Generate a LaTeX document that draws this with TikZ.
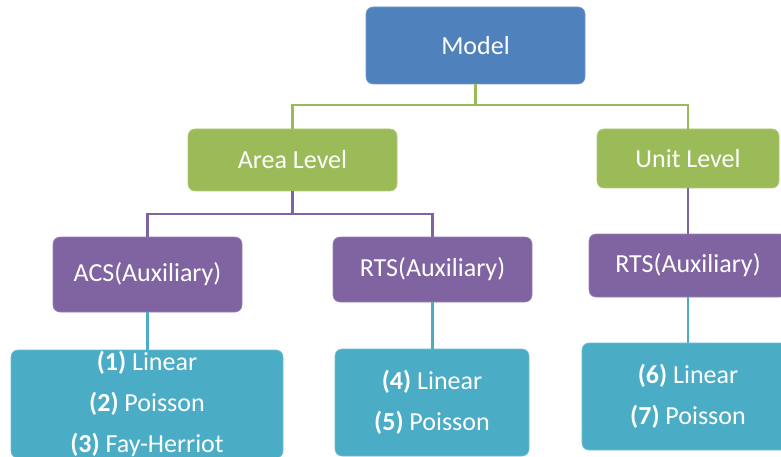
\documentclass[tikz,border=0pt]{standalone}
\usepackage{fontspec}
\setmainfont{Carlito}
\definecolor{mblue}{HTML}{4F81BD}
\definecolor{mgreen}{HTML}{9BBB59}
\definecolor{mpurple}{HTML}{8064A2}
\definecolor{mteal}{HTML}{4BACC6}
\begin{document}
\begin{tikzpicture}[x=1pt,y=-1pt,
  box/.style={rounded corners=7pt,inner sep=0pt,outer sep=0pt,text=white,
    font=\fontsize{26}{41}\selectfont,align=center,line width=0.6pt},
  bluebox/.style={box,fill=mblue,draw=mblue!80!white},
  greenbox/.style={box,fill=mgreen,draw=mgreen!80!white},
  purplebox/.style={box,fill=mpurple,draw=mpurple!80!white},
  tealbox/.style={box,fill=mteal,draw=mteal!80!white},
  gline/.style={draw=mgreen,line width=2.6pt},
  pline/.style={draw=mpurple,line width=2.6pt},
  tline/.style={draw=mteal,line width=2.6pt}]
\useasboundingbox (0,0) rectangle (781,457);
\clip (0,0) rectangle (781,457);
\node[bluebox,minimum width=219pt,minimum height=77pt] (m) at (475.5,45.5) {Model};
\node[greenbox,minimum width=209pt,minimum height=62pt] (al) at (292.5,160) {Area Level};
\node[greenbox,minimum width=182pt,minimum height=59pt] (ul) at (688,158.5) {Unit Level};
\node[purplebox,minimum width=189pt,minimum height=75pt] (acs) at (147.5,274.5) {ACS(Auxiliary)};
\node[purplebox,minimum width=199pt,minimum height=65pt] (rts1) at (432.5,269.5) {RTS(Auxiliary)};
\node[purplebox,minimum width=198pt,minimum height=63pt] (rts2) at (688,265.5) {RTS(Auxiliary)};
\node[tealbox,minimum width=272pt,minimum height=108pt] (t1) at (147,404) {\textbf{(1)} Linear\\\textbf{(2)} Poisson\\\textbf{(3)} Fay-Herriot};
\node[tealbox,minimum width=194pt,minimum height=107pt] (t2) at (432,402.5) {\textbf{(4)} Linear\\\textbf{(5)} Poisson};
\node[tealbox,minimum width=212pt,minimum height=107pt] (t3) at (688,396.5) {\textbf{(6)} Linear\\\textbf{(7)} Poisson};
\draw[gline] (m.south) -- ++(0,21) coordinate (gj) -| (al.north);
\draw[gline] (gj) -| (ul.north);
\draw[pline] (al.south) -- ++(0,23) coordinate (pj) -| (acs.north);
\draw[pline] (pj) -| (rts1.north);
\draw[pline] (ul.south) -- (rts2.north);
\draw[tline] (acs.south) -- (t1.north -| acs.south);
\draw[tline] (rts1.south) -- (t2.north -| rts1.south);
\draw[tline] (rts2.south) -- (t3.north -| rts2.south);
\end{tikzpicture}
\end{document}
